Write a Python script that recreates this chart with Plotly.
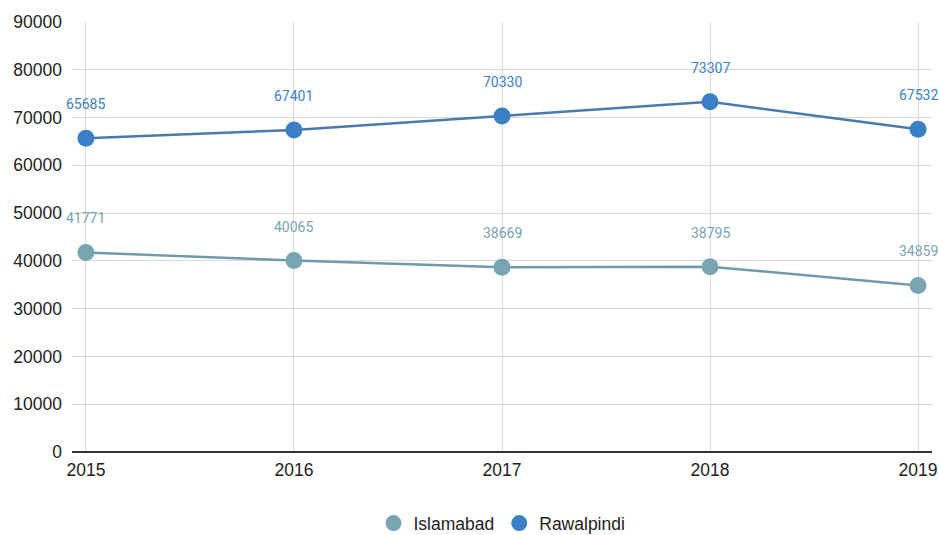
import plotly.graph_objects as go

years = [2015, 2016, 2017, 2018, 2019]
islamabad = [41771, 40065, 38669, 38795, 34859]
rawalpindi = [65685, 67401, 70330, 73307, 67532]
y_ticks = [0, 10000, 20000, 30000, 40000, 50000, 60000, 70000, 80000, 90000]

series = [
    ("Islamabad", islamabad, "#79a4b1", "#6f9ba8"),
    ("Rawalpindi", rawalpindi, "#3b7fc6", "#4a78b0"),
]

fig = go.Figure()
for name, vals, mcolor, lcolor in series:
    fig.add_trace(go.Scatter(
        x=years, y=vals, name=name, mode="lines+markers",
        line=dict(color=lcolor, width=2.5),
        marker=dict(color=mcolor, size=17),
        showlegend=False,
    ))
    for x, v in zip(years, vals):
        fig.add_annotation(
            x=x, y=v, text=str(v), showarrow=False, yshift=34,
            font=dict(family="Roboto", size=14, color=mcolor),
        )

# legend entries shown as plain circles
for name, vals, mcolor, lcolor in series:
    fig.add_trace(go.Scatter(
        x=[None], y=[None], name=name, mode="markers",
        marker=dict(color=mcolor, size=17), showlegend=True,
    ))

fig.update_layout(
    width=939, height=535,
    margin=dict(l=72, r=7, t=22, b=83, autoexpand=False),
    paper_bgcolor="white", plot_bgcolor="white",
    font=dict(family="Liberation Sans, Arial", size=17.5, color="#222222"),
    showlegend=True,
    legend=dict(orientation="h", x=0.5, xanchor="center",
                yref="container", y=0.022, yanchor="middle",
                font=dict(size=17.5, color="#222222"), itemsizing="trace",
                itemwidth=30, tracegroupgap=0),
)
fig.update_xaxes(
    range=[2014.933, 2019.067], tickvals=years, ticktext=[str(y) for y in years],
    showgrid=True, gridcolor="#d9d9d9", gridwidth=1, automargin=False,
    zeroline=False, showline=False, ticks="", ticklabelstandoff=5,
)
fig.update_yaxes(
    range=[0, 90000], tickvals=y_ticks, ticktext=[str(t) for t in y_ticks],
    showgrid=True, gridcolor="#d9d9d9", gridwidth=1, automargin=False,
    zeroline=True, zerolinecolor="#333333", zerolinewidth=2,
    showline=False, ticks="", ticklabelstandoff=9,
)

fig.write_html("out.html")
